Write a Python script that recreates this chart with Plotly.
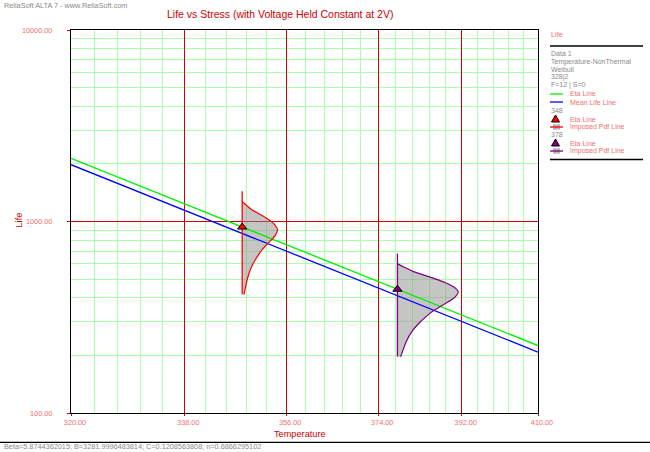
import plotly.graph_objects as go

# ---------------- data ----------------
temps = [320, 338, 356, 374, 392, 410]
eta_life = [2137, 1238, 758, 486, 325, 225]
mean_life = [1980, 1147, 702, 450, 301, 208]

x_major = [320, 338, 356, 374, 392, 410]
x_major_labels = ["320.00", "338.00", "356.00", "374.00", "392.00", "410.00"]
x_minor = [323.6, 327.2, 330.8, 334.4, 341.6, 345.2, 348.8, 352.4,
           359.6, 363.2, 366.8, 370.4, 377.6, 381.2, 384.8, 388.4,
           395.6, 399.2, 402.8, 406.4]
y_major = [100, 1000, 10000]
y_major_labels = ["100.00", "1000.00", "10000.00"]
y_minor = [200, 300, 400, 500, 600, 700, 800, 900,
           2000, 3000, 4000, 5000, 6000, 7000, 8000, 9000]

stress_temps = [348, 378]
stress_names = ["348", "378"]
stress_eta = [936, 443]
pdf_peak_offset = [6.4, 13.2]          # temperature units at the pdf peak
pdf_rel_life = [1.360, 1.307, 1.232, 1.160, 1.092, 1.029, 0.969, 0.912, 0.859,
                0.809, 0.762, 0.718, 0.676, 0.600, 0.532, 0.472, 0.444]
pdf_rel_density = [0.0, 0.10, 0.27, 0.52, 0.75, 0.92, 1.0, 0.95, 0.83,
                   0.69, 0.56, 0.46, 0.37, 0.23, 0.14, 0.08, 0.05]
pdf_line_span = [0.445, 1.536]

# ---------------- styles ----------------
RED = "#d00000"
GREEN_GRID = "#aaffaa"
PINK = "#f07070"
GRAY_TXT = "#8a8a8a"
stress_colors = ["#ff0000", "#800080"]
FONT = "Liberation Sans"

W, H = 650, 452
L, R, T, B = 71, 538, 30, 413


def inv(t):
    return 1.0 / t


def px(x):
    return (x - L) / (R - L)


def py(y):
    return (B - y) / (B - T)


fig = go.Figure()

# pdf fills
for ts, eta, pk in zip(stress_temps, stress_eta, pdf_peak_offset):
    xs = [inv(ts + d * pk) for d in pdf_rel_density] + [inv(ts)]
    ys = [r * eta for r in pdf_rel_life] + [pdf_rel_life[-1] * eta]
    xs.append(inv(ts))
    ys.append(pdf_rel_life[0] * eta)
    fig.add_trace(go.Scatter(x=xs, y=ys, mode="lines", fill="toself",
                             fillcolor="rgba(140,140,140,0.5)",
                             line=dict(width=0), hoverinfo="skip"))

# eta & mean life lines
fig.add_trace(go.Scatter(x=[inv(t) for t in temps], y=eta_life, mode="lines",
                         line=dict(color="#00ee00", width=1.3)))
fig.add_trace(go.Scatter(x=[inv(t) for t in temps], y=mean_life, mode="lines",
                         line=dict(color="#0000ff", width=1.3)))

# pdf outlines, vertical lines, triangles
for ts, eta, pk, col in zip(stress_temps, stress_eta, pdf_peak_offset, stress_colors):
    fig.add_trace(go.Scatter(x=[inv(ts + d * pk) for d in pdf_rel_density],
                             y=[r * eta for r in pdf_rel_life], mode="lines",
                             line=dict(color=col, width=1.2, shape="spline")))
    fig.add_trace(go.Scatter(x=[inv(ts), inv(ts)],
                             y=[pdf_line_span[0] * eta, pdf_line_span[1] * eta],
                             mode="lines", line=dict(color=col, width=1.3)))
    fig.add_trace(go.Scatter(x=[inv(ts)], y=[eta], mode="markers",
                             marker=dict(symbol="triangle-up", size=8, color=col,
                                         line=dict(color="black", width=1))))

fig.update_layout(
    width=W, height=H, showlegend=False,
    paper_bgcolor="white", plot_bgcolor="white",
    margin=dict(l=L, r=W - R, t=T, b=H - B, pad=0),
    font=dict(family=FONT, size=7.3, color=PINK),
)

fig.update_xaxes(
    range=[inv(320), inv(410)], tickmode="array",
    tickvals=[inv(t) for t in x_major], ticktext=x_major_labels,
    showgrid=True, gridcolor=RED, gridwidth=1,
    showline=True, linecolor="black", linewidth=1.3, mirror=True,
    ticks="outside", ticklen=2, tickcolor=RED, ticklabelshift=-4,
    tickfont=dict(family=FONT, size=7.3, color=PINK), zeroline=False,
    minor=dict(tickmode="array", tickvals=[inv(t) for t in x_minor],
               showgrid=True, gridcolor=GREEN_GRID, gridwidth=1, ticks=""),
)
fig.update_yaxes(
    type="log", range=[2, 4], tickmode="array",
    tickvals=y_major, ticktext=y_major_labels,
    showgrid=True, gridcolor=RED, gridwidth=1,
    showline=True, linecolor="black", linewidth=1.3, mirror=True,
    ticks="outside", ticklen=3, tickcolor=RED, ticklabelstandoff=13,
    tickfont=dict(family=FONT, size=7.3, color=PINK), zeroline=False,
    minor=dict(tickmode="array", tickvals=y_minor,
               showgrid=True, gridcolor=GREEN_GRID, gridwidth=1, ticks=""),
)

ann = []


def text(x, y, s, color, size=7.3, xanchor="left", angle=0):
    ann.append(dict(x=px(x), y=py(y), xref="paper", yref="paper", text=s,
                    showarrow=False, xanchor=xanchor, yanchor="middle",
                    textangle=angle, font=dict(family=FONT, size=size, color=color)))


text(280, 14, "Life vs Stress (with Voltage Held Constant at 2V)", "#cc0000", 10.5, "center")
text(2, 5, "ReliaSoft ALTA 7 - www.ReliaSoft.com", GRAY_TXT, 7.3)
text(2, 446.5, "Beta=5.8744362015; B=3281.9996483814; C=0.1208563808; n=0.6866295102", GRAY_TXT, 7.3)
text(300, 434, "Temperature", "#cc0000", 9.2, "center")
text(18.5, 220, "Life", "#cc0000", 9.2, "center", -90)

# legend panel
text(549, 34.5, "Life", PINK)
text(549, 53.3, "Data 1", GRAY_TXT, 7.0)
text(549, 61.7, "Temperature-NonThermal", GRAY_TXT, 7.0)
text(549, 69.5, "Weibull", GRAY_TXT, 7.0)
text(549, 77, "328|2", GRAY_TXT, 7.0)
text(549, 85, "F=12 | S=0", GRAY_TXT, 7.0)
text(568, 94, "Eta Line", PINK, 7.0)
text(568, 102, "Mean Life Line", PINK, 7.0)
rows = [(110, 119, 127), (134.5, 143, 151)]
for name, col, (ry, ty, ly) in zip(stress_names, stress_colors, rows):
    text(549, ry, name, GRAY_TXT, 7.0)
    text(568, ty, "Eta Line", PINK, 7.0)
    text(568, ly, "Imposed Pdf Line", PINK, 7.0)

shapes = []


def hline(x0, x1, y, color, w=1.0):
    shapes.append(dict(type="line", xref="paper", yref="paper",
                       x0=px(x0), x1=px(x1), y0=py(y), y1=py(y),
                       line=dict(color=color, width=w)))


hline(550, 643, 46, "black", 1.3)
hline(550, 643, 159.5, "black", 1.3)
hline(0, 650, 442.3, "black", 1.3)
hline(550, 563, 94, "#00ee00", 1.3)
hline(550, 563, 102, "#0000ff", 1.3)
for col, (ry, ty, ly) in zip(stress_colors, rows):
    shapes.append(dict(type="path", xref="paper", yref="paper",
                       path="M %f %f L %f %f L %f %f Z" % (
                           px(555.5), py(ty - 4), px(551.5), py(ty + 3),
                           px(559.5), py(ty + 3)),
                       fillcolor=col, line=dict(color="black", width=1)))
    shapes.append(dict(type="rect", xref="paper", yref="paper",
                       x0=px(553), x1=px(560), y0=py(ly - 2.7), y1=py(ly + 2.7),
                       fillcolor="#b8b8b8", line=dict(width=0)))
    hline(550, 563, ly, col, 1.3)

fig.update_layout(annotations=ann, shapes=shapes)
fig.write_html("out.html", config={"displayModeBar": False},
               post_script="document.body.style.margin='0px';"
                           "document.body.style.overflow='hidden';")
